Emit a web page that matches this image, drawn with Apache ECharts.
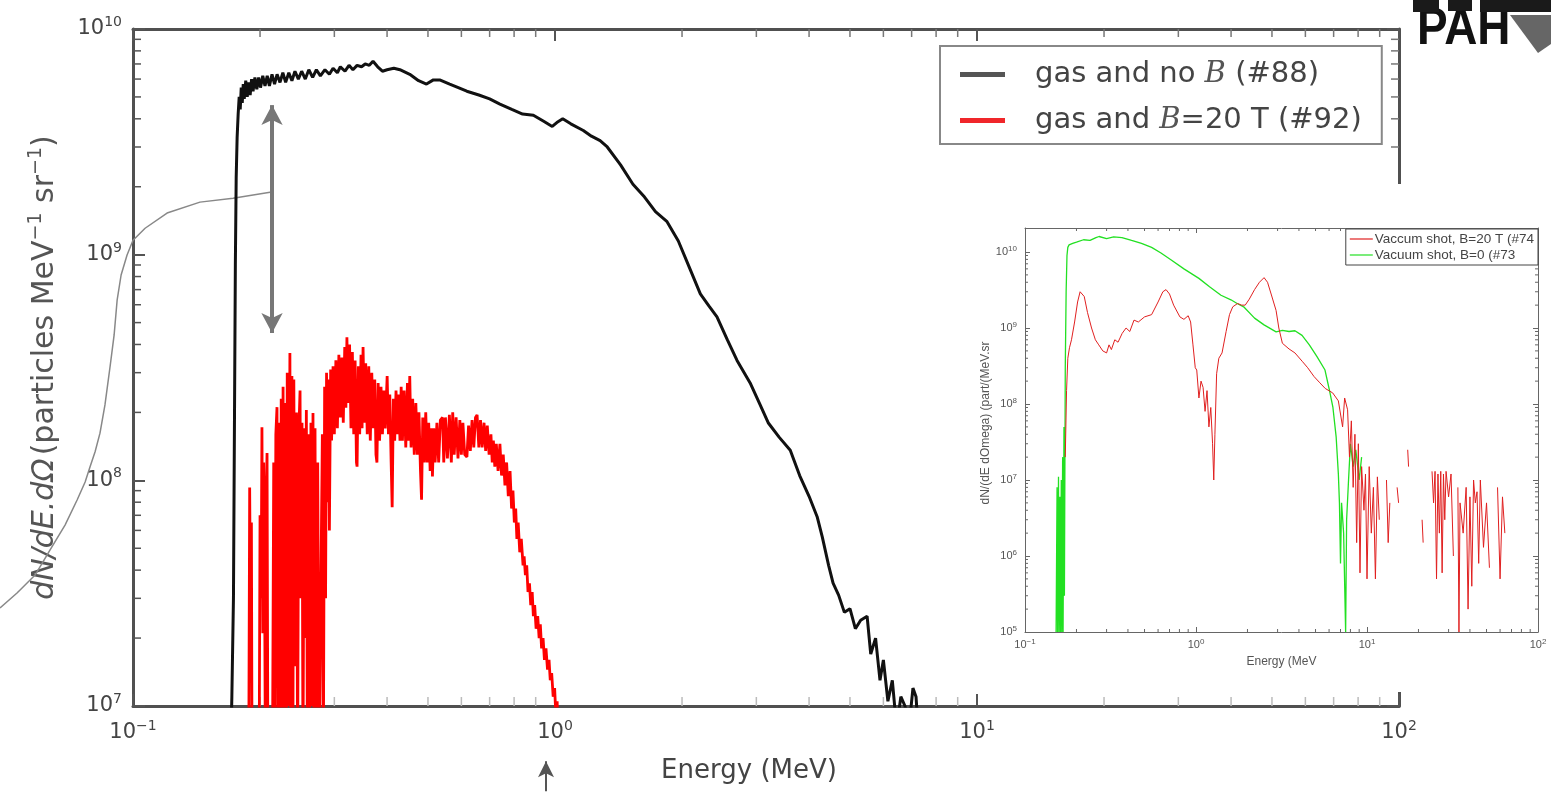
<!DOCTYPE html>
<html><head><meta charset="utf-8">
<script src="https://cdn.jsdelivr.net/npm/echarts@6/dist/echarts.min.js"></script>
<style>html,body{margin:0;padding:0;background:#fff}#c{width:1551px;height:792px}</style>
</head><body><div id="c"></div>
<script>
// ---------- main chart data (Energy MeV, dN/dE.dOmega) ----------
const blackE = [0.1700,0.1715,0.1730,0.1740,0.1748,0.1756,0.1765,0.1775,0.1785,0.1795,0.1805,0.1815,0.1825,0.1835,0.1850,0.1865,0.1880,0.1895,0.1910,0.1925,0.1945,0.1965,0.1985,0.2005,0.2030,0.2055,0.2080,0.2105,0.2135,0.2165,0.2195,0.2230,0.2265,0.2300,0.2340,0.2380,0.2420,0.2465,0.2510,0.2560,0.2610,0.2665,0.2720,0.2780,0.2850,0.2920,0.2979,0.3050,0.3100,0.3180,0.3250,0.3320,0.3396,0.3480,0.3550,0.3630,0.3705,0.3800,0.3900,0.4000,0.4150,0.4290,0.4527,0.4750,0.4960,0.5150,0.5330,0.5629,0.5900,0.6180,0.6600,0.7000,0.7404,0.7900,0.8378,0.8887,0.9400,0.9850,1.0100,1.0430,1.0900,1.1670,1.2200,1.2790,1.3300,1.4300,1.5300,1.6300,1.7300,1.8430,1.9600,2.0800,2.2100,2.3200,2.4200,2.5600,2.7000,2.9000,3.0500,3.2000,3.4000,3.6100,3.8000,4.0000,4.1800,4.3000,4.4500,4.5600,4.7000,4.8500,5.0000,5.1500,5.3000,5.4900,5.6000,5.7500,5.8900,6.0000,6.1500,6.3000,6.4500,6.6000,6.7500,6.9000,7.0500,7.1700,7.2500];
const blackN = [5e6,1.1e7,3e7,2e8,9e8,2.2e9,3.3e9,4.2e9,5.0e9,4.4e9,5.5e9,4.7e9,5.7e9,4.9e9,5.9e9,5.0e9,5.8e9,5.1e9,6.0e9,5.3e9,6.1e9,5.4e9,6.1e9,5.5e9,6.2e9,5.6e9,6.2e9,5.6e9,6.3e9,5.7e9,6.3e9,5.8e9,6.4e9,5.8e9,6.4e9,5.9e9,6.5e9,6.0e9,6.5e9,6.0e9,6.6e9,6.1e9,6.6e9,6.2e9,6.6e9,6.3e9,6.7e9,6.4e9,6.8e9,6.5e9,6.9e9,6.6e9,6.9e9,6.8e9,7.0e9,6.9e9,7.2e9,6.8e9,6.5e9,6.6e9,6.7e9,6.6e9,6.3e9,5.9e9,5.7e9,5.95e9,5.95e9,5.7e9,5.5e9,5.3e9,5.1e9,4.9e9,4.65e9,4.4e9,4.2e9,4.15e9,3.9e9,3.7e9,3.85e9,4.0e9,3.8e9,3.55e9,3.35e9,3.2e9,3.0e9,2.5e9,2.05e9,1.8e9,1.55e9,1.4e9,1.15e9,8.8e8,6.7e8,5.9e8,5.3e8,4.2e8,3.4e8,2.7e8,2.2e8,1.8e8,1.55e8,1.36e8,1.05e8,8.5e7,6.9e7,5.6e7,4.2e7,3.5e7,3.1e7,2.6e7,2.7e7,2.2e7,2.4e7,2.5e7,1.7e7,2.0e7,1.3e7,1.6e7,1.05e7,1.3e7,8e6,1.1e7,1.0e7,8e6,1.2e7,1.1e7,8e6];

const redE = [0.1880,0.1890,0.1900,0.1908,0.1915,0.1990,0.2000,0.2012,0.2021,0.2030,0.2040,0.2050,0.2060,0.2070,0.2078,0.2088,0.2140,0.2155,0.2165,0.2180,0.2194,0.2205,0.2218,0.2230,0.2245,0.2258,0.2268,0.2280,0.2295,0.2308,0.2320,0.2335,0.2354,0.2366,0.2380,0.2392,0.2405,0.2420,0.2440,0.2455,0.2470,0.2488,0.2500,0.2515,0.2528,0.2545,0.2560,0.2575,0.2590,0.2605,0.2620,0.2640,0.2655,0.2670,0.2685,0.2700,0.2715,0.2740,0.2760,0.2790,0.2810,0.2825,0.2845,0.2860,0.2875,0.2890,0.2905,0.2920,0.2940,0.2955,0.2979,
  0.3000,0.3025,0.3050,0.3075,0.3100,0.3125,0.3150,0.3175,0.3195,0.3213,0.3235,0.3260,0.3285,0.3310,0.3335,0.3360,0.3385,0.3396,0.3420,0.3445,0.3470,0.3490,0.3509,0.3535,0.3560,0.3590,0.3620,0.3650,0.3680,0.3710,0.3740,0.3765,0.3785,0.3810,0.3840,0.3870,0.3900,0.3930,0.3960,0.4002,0.4030,0.4060,0.4090,0.4113,0.4140,0.4170,0.4200,0.4230,0.4260,0.4292,0.4320,0.4350,0.4390,0.4430,0.4470,0.4500,0.4527,0.4560,0.4600,0.4640,0.4680,0.4720,0.4760,0.4800,0.4828,0.4860,0.4900,0.4940,0.4980,0.5020,0.5060,0.5100,0.5124,0.5160,0.5200,0.5250,0.5300,0.5350,0.5414,0.5450,0.5500,0.5560,0.5620,0.5680,0.5723,0.5770,0.5830,0.5890,0.5950,0.6000,0.6050,0.6110,0.6184,0.6240,0.6300,0.6360,0.6420,0.6480,0.6537,0.6600,0.6660,0.6720,0.6790,0.6850,0.6911,0.6980,0.7050,0.7100,0.7145,0.7200,0.7260,0.7330,0.7404,0.7470,0.7540,0.7610,0.7680,0.7750,0.7825,0.7890,0.7950,0.8010,0.8070,0.8122,0.8180,0.8250,0.8320,0.8400,0.8450,0.8508,0.8570,0.8630,0.8700,0.8760,0.8830,0.8887,0.8950,0.9020,0.9100,0.9170,0.9230,0.9294,0.9370,0.9440,0.9520,0.9600,0.9680,0.9744,0.9820,0.9900,0.9980,1.0050,1.0118,1.0200];
const redN = [5e6,9.3e7,2.0e7,6.5e7,5e6,5e6,7e7,3.0e7,1.72e8,2.1e7,1.2e8,4e7,5e6,9e7,1.32e8,5e6,5e6,1.2e8,5e6,1.6e8,2.11e8,5e6,1.8e8,5e6,2.3e8,8e6,2.6e8,5e6,2.2e8,5e6,3.0e8,1e7,3.67e8,5e6,2.9e8,5e6,2.8e8,1.5e7,2.0e8,5e6,1.6e8,2.5e8,3e7,1.8e8,5e6,1.7e8,2e7,2.05e8,5e6,1.6e8,5e6,1.8e8,1e7,1.99e8,5e6,1.7e8,5e6,1.2e8,5e6,5e6,1.6e8,5e6,2.6e8,3e7,3.0e8,8e7,2.8e8,6e7,3.1e8,1.5e8,3.2e8,
  1.6e8,3.4e8,1.7e8,3.6e8,1.9e8,3.5e8,1.8e8,3.9e8,2.1e8,4.3e8,2.2e8,4.0e8,1.7e8,3.7e8,1.6e8,3.4e8,1.2e8,1.15e8,3.2e8,1.6e8,3.6e8,1.7e8,3.9e8,1.8e8,3.3e8,1.6e8,3.2e8,1.5e8,3.0e8,1.7e8,2.8e8,1.3e8,1.2e8,2.7e8,1.5e8,2.6e8,1.6e8,2.5e8,1.7e8,2.9e8,1.6e8,2.4e8,1.2e8,7.6e7,2.3e8,1.5e8,2.5e8,1.6e8,2.4e8,1.5e8,2.6e8,1.5e8,2.5e8,1.4e8,2.7e8,1.5e8,2.9e8,1.4e8,2.3e8,1.3e8,2.2e8,1.3e8,2.0e8,1.1e8,8.2e7,1.9e8,1.2e8,2.0e8,1.2e8,1.8e8,1.1e8,1.7e8,1.04e8,1.7e8,1.2e8,1.8e8,1.2e8,1.85e8,1.9e8,1.2e8,1.9e8,1.25e8,1.95e8,1.2e8,2.0e8,1.3e8,1.9e8,1.25e8,1.85e8,1.3e8,1.8e8,1.3e8,1.27e8,1.75e8,1.35e8,1.85e8,1.4e8,1.9e8,1.95e8,1.4e8,1.85e8,1.4e8,1.8e8,1.35e8,1.75e8,1.3e8,1.6e8,1.2e8,1.5e8,1.15e8,1.45e8,1.1e8,1.45e8,1.05e8,1.3e8,9.5e7,1.2e8,8.5e7,1.1e8,7.5e7,9e7,6.5e7,7.5e7,5.5e7,6.5e7,4.8e7,5.5e7,4.2e7,4.6e7,3.8e7,4.2e7,3.2e7,3.5e7,2.8e7,3.2e7,2.5e7,2.8e7,2.2e7,2.5e7,2.0e7,2.3e7,1.8e7,2.0e7,1.6e7,1.8e7,1.45e7,1.6e7,1.3e7,1.4e7,1.1e7,1.2e7,9e6,1.05e7,6e6];

const grayE = [0.04839,0.0531,0.0586,0.0636,0.0690,0.0737,0.0770,0.0791,0.0813,0.0835,0.0858,0.0882,0.0902,0.0917,0.0937,0.0968,0.1000,0.1068,0.1204,0.1441,0.1726,0.2112];
const grayN = [2.72e7,3.17e7,3.81e7,4.92e7,6.34e7,8.19e7,9.84e7,1.15e8,1.34e8,1.62e8,2.16e8,3.18e8,4.41e8,6.3e8,8.13e8,9.97e8,1.16e9,1.31e9,1.53e9,1.71e9,1.78e9,1.89e9];

// annotation arrows [energy, from N, to N]
const gapArrow = [0.2135, 4.6e9, 4.5e8];
const bottomArrow = [0.952, 4.2e6, 5.7e6];

// ---------- inset data ----------
const greenE = [0.152,0.154,0.155,0.157,0.158,0.160,0.161,0.163,0.164,0.166,0.167,0.169,0.170,0.172,0.174,0.176,0.178,0.181,0.19,0.20,0.22,0.24,0.26,0.271,0.30,0.33,0.369,0.42,0.48,0.55,0.624,0.72,0.85,1.04,1.2,1.4,1.6,1.74,1.9,2.2,2.5,2.94,3.2,3.5,3.79,4.17,4.6,5.1,5.68,6.0,6.32,6.6,6.8,6.9,7.0,7.1,7.3,7.5,7.6,7.8,8.0,8.3,8.6,9.0,9.3];
const greenN = [1e5,8e6,1e5,1.1e7,1e5,6e6,1e5,1e7,1e5,2e7,1e5,5e7,3e5,3e8,3e9,9e9,1.15e10,1.24e10,1.3e10,1.35e10,1.45e10,1.42e10,1.55e10,1.6e10,1.5e10,1.58e10,1.55e10,1.42e10,1.3e10,1.15e10,9.7e9,7.8e9,6e9,4.5e9,3.5e9,2.7e9,2.35e9,2.1e9,1.9e9,1.35e9,1.1e9,8.9e8,9.3e8,9e8,9.2e8,8e8,6e8,4.2e8,2.8e8,1.6e8,9e7,3.7e7,1.2e7,5e6,8e5,5e6,2e6,1e5,3e6,1e7,3e7,1.5e7,2.5e7,1e7,2e7];

const redInE = [0.172,0.175,0.178,0.182,0.187,0.195,0.203,0.210,0.215,0.222,0.232,0.245,0.258,0.270,0.285,0.300,0.31,0.32,0.335,0.35,0.37,0.39,0.41,0.434,0.46,0.50,0.55,0.60,0.64,0.668,0.70,0.74,0.805,0.85,0.90,0.93,0.96,0.99,1.01,1.04,1.07,1.10,1.13,1.16,1.19,1.22,1.25,1.27,1.29,1.32,1.36,1.42,1.5,1.57,1.64,1.75,1.85,1.94,2.05,2.2,2.35,2.5,2.62,2.75,2.94,3.05,3.2,3.5,3.79,4.2,4.5,4.9,5.3,5.7,6.3,6.8,7.2,7.4,7.7,7.9,8.1,8.3,8.5,8.7,8.9,9.1,9.3,9.6,9.8,10.0,10.3,10.6,10.9,11.2,11.5,11.8,12.4,13.0,13.3,13.6,14.3,15.0,15.3,16.3,17.3,17.5,19.0,21.0,21.3,22.5,24,24.5,25,25.5,26,26.5,27,27.5,28,28.5,29,30,31,32,33,34,34.5,35,36.5,38,39,40,41,42,43,44,45,46,48,50,52,55,58,60,62,64];
const redInN = [2e7,1.5e8,4e8,5.5e8,7e8,1.2e9,2.2e9,3.0e9,3.16e9,2.6e9,1.6e9,1.0e9,7e8,6e8,5e8,4.7e8,6e8,5.2e8,7e8,6.5e8,8.5e8,1.0e9,9e8,1.27e9,1.2e9,1.4e9,1.5e9,2.2e9,3.0e9,3.2e9,2.8e9,2.0e9,1.4e9,1.3e9,1.45e9,1.2e9,6e8,3e8,2.8e8,1.2e8,2e8,1.65e8,8e7,1.5e8,5e7,9e7,3e7,1e7,4e7,2.5e8,4e8,4.7e8,9e8,1.5e9,1.9e9,2.1e9,2.0e9,2.0e9,2.4e9,3.2e9,4.0e9,4.6e9,4.0e9,2.8e9,1.7e9,1.0e9,6.3e8,5.3e8,4.7e8,3.6e8,3.0e8,2.3e8,1.9e8,1.6e8,1.4e8,1.1e8,5e7,1.2e8,8.4e7,2e7,6e7,8e6,4e7,1.5e6,3e7,6e5,1.5e7,4e6,1.2e7,5e5,1.5e7,2e6,8e6,5e5,1.1e7,3e6,null,1.0e7,1.5e6,5e6,null,8e6,5e6,null,2.5e7,1.5e7,null,3e6,1.5e6,null,1.3e7,5e6,1.3e7,5e5,1.2e7,2e6,1.3e7,6e5,1.2e7,3e6,1.3e7,6e6,1.2e7,1e6,null,8e6,1e5,5e6,2e6,8e6,2e5,6e6,4e5,1e7,5e6,7e6,8e5,1e7,1.3e6,5e6,7e5,null,8e6,5e5,6e6,2e6];

// ---------- tick values ----------
const minorE = [0.2,0.3,0.4,0.5,0.6,0.7,0.8,0.9,2,3,4,5,6,7,8,9,20,30,40,50,60,70,80,90];
const minorN = [2e7,3e7,4e7,5e7,6e7,7e7,8e7,9e7,2e8,3e8,4e8,5e8,6e8,7e8,8e8,9e8,2e9,3e9,4e9,5e9,6e9,7e9,8e9,9e9];
const insetMinorN = [2e5,3e5,4e5,5e5,6e5,7e5,8e5,9e5,2e6,3e6,4e6,5e6,6e6,7e6,8e6,9e6,2e7,3e7,4e7,5e7,6e7,7e7,8e7,9e7,2e8,3e8,4e8,5e8,6e8,7e8,8e8,9e8,2e9,3e9,4e9,5e9,6e9,7e9,8e9,9e9];

const mainNames = ['gas and no B (#88)', 'gas and B=20 T (#92)'];
const mainLegendRich = ['{t|gas and no }{i|B}{t| (#88)}', '{t|gas and }{i|B}{t|=20 T (#92)}'];
const insetNames = ['Vaccum shot, B=20 T (#74', 'Vacuum shot, B=0 (#73'];

const zip = (a, b) => a.map((v, i) => [v, b[i] == null ? '-' : b[i]]);

function powLabel(v) {
  const l = Math.log10(v), e = Math.round(l);
  if (Math.abs(l - e) > 0.01) return '';
  return '{b|10}{s|' + String(e).replace('-', '\u2212') + '}';
}

function tickSeries(xi, yi, data, dx, dy, color, w, z) {
  return {
    type: 'custom', xAxisIndex: xi, yAxisIndex: yi, silent: true, clip: false, z: z,
    renderItem: function (params, api) {
      const p = api.coord([api.value(0), api.value(1)]);
      return { type: 'line', shape: { x1: p[0], y1: p[1], x2: p[0] + dx, y2: p[1] + dy },
               style: { stroke: color, lineWidth: w } };
    },
    data: data
  };
}

const F = 'DejaVu Sans';
const mainLabelRich = {
  b: { fontSize: 21, fontFamily: F, color: '#444', lineHeight: 27 },
  s: { fontSize: 14, fontFamily: F, color: '#444', lineHeight: 15, verticalAlign: 'top' }
};
const insetLabelRich = {
  b: { fontSize: 11, fontFamily: 'Liberation Sans', color: '#555', lineHeight: 14 },
  s: { fontSize: 8, fontFamily: 'Liberation Sans', color: '#555', lineHeight: 8, verticalAlign: 'top' }
};

const mainAxisLine = { show: true, lineStyle: { color: '#505050', width: 3 } };
const mainTick = { show: true, inside: true, length: 12, lineStyle: { color: '#555', width: 2 } };
const insetAxisLine = { show: true, lineStyle: { color: '#666', width: 1 } };
const insetTick = { show: true, inside: true, length: 5, lineStyle: { color: '#666', width: 1 } };

const option = {
  animation: false,
  backgroundColor: '#fff',
  grid: [
    { left: 133, top: 29, width: 1266, height: 677, z: 0 },
    { left: 1025, top: 228, width: 513, height: 404, z: 30 },
    { left: 0, top: 29, width: 1399, height: 763, z: 0 }
  ],
  xAxis: [
    { type: 'log', logBase: 10, gridIndex: 0, min: 0.1, max: 100, position: 'bottom',
      axisLine: mainAxisLine, axisTick: mainTick, splitLine: { show: false },
      axisLabel: { margin: 13, formatter: powLabel, rich: mainLabelRich },
      name: 'Energy (MeV)', nameLocation: 'middle', nameGap: 52,
      nameTextStyle: { fontFamily: F, fontSize: 26, color: '#444', padding: [0, 34, 0, 0] } },
    { type: 'log', logBase: 10, gridIndex: 0, min: 0.1, max: 100, position: 'top',
      axisLine: mainAxisLine, axisTick: mainTick, splitLine: { show: false }, axisLabel: { show: false } },
    { type: 'log', logBase: 10, gridIndex: 1, min: 0.1, max: 100, position: 'bottom', z: 30,
      axisLine: insetAxisLine, axisTick: insetTick, splitLine: { show: false },
      axisLabel: { margin: 6, formatter: powLabel, rich: insetLabelRich },
      name: 'Energy (MeV', nameLocation: 'middle', nameGap: 23,
      nameTextStyle: { fontFamily: 'Liberation Sans', fontSize: 12, color: '#555' } },
    { type: 'log', logBase: 10, gridIndex: 1, min: 0.1, max: 100, position: 'top', z: 30,
      axisLine: insetAxisLine, axisTick: insetTick, splitLine: { show: false }, axisLabel: { show: false } },
    { type: 'log', logBase: 10, gridIndex: 2, min: 0.04839, max: 100, show: false }
  ],
  yAxis: [
    { type: 'log', logBase: 10, gridIndex: 0, min: 1e7, max: 1e10, position: 'left',
      axisLine: mainAxisLine, axisTick: mainTick, splitLine: { show: false },
      axisLabel: { margin: 11, formatter: powLabel, rich: mainLabelRich },
      name: '{i|dN/dE.d\u03a9} {n|(particles MeV}{s|\u22121}{n| sr}{s|\u22121}{n|)}',
      nameLocation: 'middle', nameGap: 70,
      nameTextStyle: { rich: {
        i: { fontFamily: F, fontSize: 30, fontStyle: 'italic', color: '#555', lineHeight: 36 },
        n: { fontFamily: F, fontSize: 30, color: '#555', lineHeight: 36 },
        s: { fontFamily: F, fontSize: 19, color: '#555', lineHeight: 19, verticalAlign: 'top' } } } },
    { type: 'log', logBase: 10, gridIndex: 0, min: 1e7, max: 1e10, position: 'right',
      axisLine: mainAxisLine, axisTick: mainTick, splitLine: { show: false }, axisLabel: { show: false } },
    { type: 'log', logBase: 10, gridIndex: 1, min: 1e5, max: 2.07e10, position: 'left', z: 30,
      axisLine: insetAxisLine, axisTick: insetTick, splitLine: { show: false },
      axisLabel: { margin: 8, formatter: powLabel, rich: insetLabelRich },
      name: 'dN/(dE dOmega) (part/(MeV.sr', nameLocation: 'middle', nameGap: 28,
      nameTextStyle: { fontFamily: 'Liberation Sans', fontSize: 12, color: '#555', padding: [0, 0, 0, 14] } },
    { type: 'log', logBase: 10, gridIndex: 1, min: 1e5, max: 2.07e10, position: 'right', z: 30,
      axisLine: insetAxisLine, axisTick: insetTick, splitLine: { show: false }, axisLabel: { show: false } },
    { type: 'log', logBase: 10, gridIndex: 2, min: 4.165e6, max: 1e10, show: false }
  ],
  legend: [
    { data: mainNames, left: 940, top: 46, orient: 'vertical', icon: 'rect',
      itemWidth: 45, itemHeight: 5, itemGap: 17, padding: [14, 20, 9, 20],
      borderColor: '#888', borderWidth: 2, backgroundColor: '#fff', selectedMode: false,
      formatter: function (name) { return mainLegendRich[mainNames.indexOf(name)]; },
      textStyle: { fontFamily: F, fontSize: 29, color: '#444', padding: [0, 0, 0, 25],
        rich: { t: { fontFamily: F, fontSize: 29, color: '#444', lineHeight: 35 },
                i: { fontFamily: 'DejaVu Serif', fontStyle: 'italic', fontSize: 29, color: '#555', lineHeight: 35 } } } },
    { data: insetNames, right: 13, top: 229, orient: 'vertical', icon: 'rect', z: 40,
      itemWidth: 23, itemHeight: 1.2, itemGap: 2, padding: [3, 4, 3, 4],
      borderColor: '#444', borderWidth: 1, backgroundColor: '#fff', selectedMode: false,
      textStyle: { fontFamily: 'Liberation Sans', fontSize: 13.5, color: '#444', padding: [0, 0, 0, -3] } }
  ],
  graphic: [
    { type: 'rect', z: 20, silent: true, shape: { x: 985, y: 184, width: 566, height: 508 }, style: { fill: '#fff' } },
    { type: 'text', z: 5, left: 1417, top: 4, silent: true, scaleX: 0.9,
      style: { text: 'PAH', fontFamily: 'Liberation Sans', fontWeight: 'bold', fontSize: 51, fill: '#111' } },
    { type: 'polygon', z: 5, silent: true, shape: { points: [[1510, 15], [1551, 15], [1551, 44], [1538, 53]] }, style: { fill: '#666' } },
    { type: 'rect', z: 5, silent: true, shape: { x: 1413, y: 0, width: 26, height: 12 }, style: { fill: '#1a1a1a' } },
    { type: 'rect', z: 5, silent: true, shape: { x: 1448, y: 0, width: 24, height: 11 }, style: { fill: '#1a1a1a' } },
    { type: 'rect', z: 5, silent: true, shape: { x: 1480, y: 0, width: 71, height: 12 }, style: { fill: '#1a1a1a' } }
  ],
  series: [
    { name: 'gray', type: 'line', xAxisIndex: 4, yAxisIndex: 4, clip: false, silent: true, z: 2,
      showSymbol: false, symbol: 'none', data: zip(grayE, grayN),
      lineStyle: { color: '#888', width: 1.5 },
      markLine: { silent: true, animation: false, label: { show: false },
        lineStyle: { color: '#777', width: 4, type: 'solid' },
        symbolSize: [16, 20],
        data: [
          [{ coord: [gapArrow[0], gapArrow[1]], symbol: 'arrow' }, { coord: [gapArrow[0], gapArrow[2]], symbol: 'arrow' }],
          [{ coord: [bottomArrow[0], bottomArrow[1]], symbol: 'none', lineStyle: { width: 2, color: '#555' } },
           { coord: [bottomArrow[0], bottomArrow[2]], symbol: 'arrow', symbolSize: [12, 16] }]
        ] } },
    { name: mainNames[0], type: 'line', xAxisIndex: 0, yAxisIndex: 0, silent: true, z: 3,
      showSymbol: false, symbol: 'none', data: zip(blackE, blackN), color: '#555',
      lineStyle: { color: '#111', width: 3 } },
    { name: mainNames[1], type: 'line', xAxisIndex: 0, yAxisIndex: 0, silent: true, z: 4,
      showSymbol: false, symbol: 'none', data: zip(redE, redN), color: '#f0262a',
      lineStyle: { color: '#ff0000', width: 2.8 } },
    tickSeries(0, 0, minorE.map(v => [v, 1e7]), 0, -9, '#bbb', 1.5, 1),
    tickSeries(1, 1, minorE.map(v => [v, 1e10]), 0, 8, '#777', 1.5, 1),
    tickSeries(0, 0, minorN.map(v => [0.1, v]), 8, 0, '#555', 1.5, 1),
    tickSeries(1, 1, minorN.map(v => [100, v]), -8, 0, '#777', 1.5, 1),
    { name: insetNames[0], type: 'line', xAxisIndex: 2, yAxisIndex: 2, silent: true, z: 32,
      showSymbol: false, symbol: 'none', data: zip(redInE, redInN), connectNulls: false,
      color: '#e02020', lineStyle: { color: '#e02020', width: 1 } },
    { name: insetNames[1], type: 'line', xAxisIndex: 2, yAxisIndex: 2, silent: true, z: 31,
      showSymbol: false, symbol: 'none', data: zip(greenE, greenN),
      color: '#22e022', lineStyle: { color: '#22e022', width: 1.3 } },
    tickSeries(2, 2, minorE.map(v => [v, 1e5]), 0, -3, '#666', 1, 33),
    tickSeries(3, 3, minorE.map(v => [v, 2.07e10]), 0, 3, '#666', 1, 33),
    tickSeries(2, 2, insetMinorN.map(v => [0.1, v]), 3, 0, '#666', 1, 33),
    tickSeries(3, 3, insetMinorN.map(v => [100, v]), -3, 0, '#666', 1, 33)
  ]
};

const chart = echarts.init(document.getElementById('c'));
chart.setOption(option);
</script>
</body></html>
